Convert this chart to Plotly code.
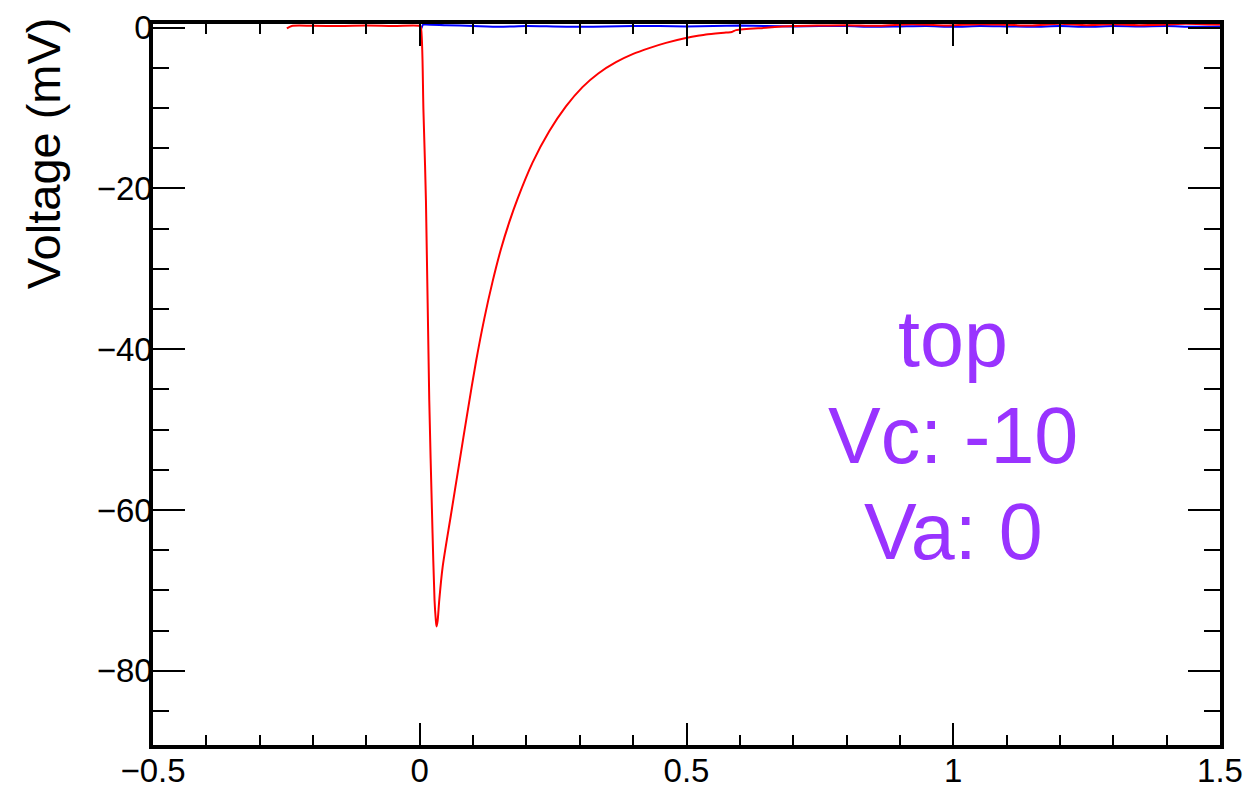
import plotly.graph_objects as go

# ---- data ----
red_t = [-0.249, -0.24, -0.2, -0.15, -0.1, -0.05, 0.0, 0.002, 0.007, 0.0116, 0.0178, 0.024,
         0.0277, 0.030, 0.0315, 0.0335, 0.0366, 0.0427, 0.0585, 0.074, 0.0896, 0.1053,
         0.121, 0.1365, 0.152, 0.1678, 0.1833, 0.2114, 0.2427, 0.274, 0.305, 0.3346,
         0.3678, 0.399, 0.430, 0.4615, 0.499, 0.524, 0.5365, 0.574, 0.585, 0.593, 0.649,
         0.699, 0.75, 0.799, 0.861, 0.923, 0.986, 1.049, 1.099, 1.148, 1.199, 1.249,
         1.298, 1.348, 1.399, 1.436, 1.486, 1.5]
red_v = [-0.1, 0.2, 0.22, 0.2, 0.25, 0.2, 0.2, 0.05, -10.5, -21.5, -46.3, -62.9,
         -71.2, -73.6, -74.5, -73.8, -71.2, -67.2, -60.6, -54.2, -47.8, -41.6,
         -36.2, -31.6, -27.6, -24.2, -21.3, -16.8, -12.9, -9.8, -7.4, -5.7,
         -4.3, -3.3, -2.55, -1.9, -1.3, -0.98, -0.85, -0.62, -0.55, -0.31, -0.02,
         0.19, 0.27, 0.31, 0.22, 0.43, 0.27, 0.43, 0.35, 0.27, 0.47, 0.31,
         0.43, 0.31, 0.39, 0.47, 0.39, 0.4]

blue_t = [0.0, 0.002, 0.006, 0.01, 0.05, 0.1, 0.15, 0.2, 0.25, 0.3, 0.35, 0.4, 0.45, 0.5,
          0.55, 0.6, 0.65, 0.7, 0.75, 0.8, 0.85, 0.9, 0.95, 1.0, 1.05, 1.1, 1.15, 1.2,
          1.25, 1.3, 1.35, 1.4, 1.45, 1.5]
blue_v = [0.2, -0.2, 0.35, 0.4, 0.3, 0.2, 0.1, 0.2, 0.15, 0.1, 0.15, 0.2, 0.2, 0.15,
          0.2, 0.25, 0.2, 0.15, 0.2, 0.2, 0.1, 0.15, 0.2, 0.1, 0.2, 0.15, 0.1, 0.2,
          0.1, 0.2, 0.15, 0.2, 0.1, 0.15]

label_lines = ["top", "Vc: -10", "Va: 0"]
label_y = [-38.7, -50.8, -62.7]
label_x = 1.0

x_range = [-0.5, 1.5]
y_range = [-89.24, 0.45]

FONT = "Liberation Sans, Arial, Helvetica, sans-serif"

fig = go.Figure()
fig.add_trace(go.Scatter(x=blue_t, y=blue_v, mode="lines",
                         line=dict(color="#0000ff", width=2, shape="spline", smoothing=0.6),
                         showlegend=False))
fig.add_trace(go.Scatter(x=red_t, y=red_v, mode="lines",
                         line=dict(color="#ff0000", width=2, shape="spline", smoothing=0.8),
                         showlegend=False))

for txt, yy in zip(label_lines, label_y):
    fig.add_annotation(x=label_x, y=yy, xref="x", yref="y", text=txt, showarrow=False,
                       xanchor="center", yanchor="middle",
                       font=dict(family=FONT, size=79, color="#9933ff"))

fig.add_annotation(x=-0.103, y=0.821, xref="paper", yref="paper", text="Voltage (mV)",
                   textangle=-90, showarrow=False, xanchor="center", yanchor="middle",
                   font=dict(family=FONT, size=47, color="black"))

axis_common = dict(showgrid=False, zeroline=False, showline=True, linecolor="black",
                   linewidth=3.5, mirror="allticks", ticks="inside", tickcolor="black",
                   tickwidth=2, automargin=False,
                   tickfont=dict(family=FONT, size=33, color="black"))

fig.update_xaxes(range=x_range, dtick=0.5, tick0=0, ticklen=22,
                 minor=dict(ticks="inside", dtick=0.1, ticklen=10, tickcolor="black",
                            tickwidth=2, showgrid=False),
                 ticklabelstandoff=-6, **axis_common)
fig.update_yaxes(range=y_range, dtick=20, tick0=0, ticklen=32,
                 minor=dict(ticks="inside", dtick=5, ticklen=16, tickcolor="black",
                            tickwidth=2, showgrid=False),
                 ticklabelstandoff=-10, **axis_common)

fig.update_layout(width=1246, height=790, paper_bgcolor="white", plot_bgcolor="white",
                  margin=dict(l=153, r=26, t=24, b=45, autoexpand=False), showlegend=False,
                  font=dict(family=FONT))

fig.write_html("out.html")
